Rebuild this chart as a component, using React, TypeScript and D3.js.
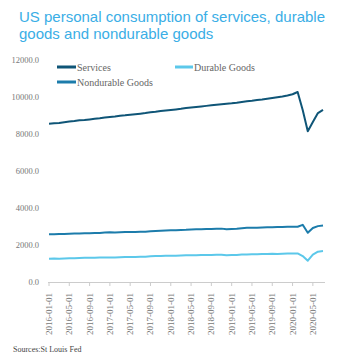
import React from "react";
import * as d3 from "d3";

const months: string[] = [];
const startYear = 2016;
for (let y = startYear; y <= 2020; y++) {
  for (let m = 1; m <= 12; m++) {
    if (y === 2020 && m > 7) break;
    months.push(`${y}-${String(m).padStart(2, "0")}-01`);
  }
}

const tickLabels = [
  "2016-01-01", "2016-05-01", "2016-09-01", "2017-01-01", "2017-05-01", "2017-09-01",
  "2018-01-01", "2018-05-01", "2018-09-01", "2019-01-01", "2019-05-01", "2019-09-01",
  "2020-01-01", "2020-05-01",
];

const yTicks = [0, 2000, 4000, 6000, 8000, 10000, 12000];

const services = [
  8550, 8580, 8600, 8640, 8670, 8700, 8740, 8760, 8790, 8820, 8850, 8890,
  8920, 8950, 8990, 9010, 9040, 9070, 9100, 9130, 9170, 9200, 9240, 9270,
  9300, 9330, 9360, 9400, 9430, 9460, 9490, 9520, 9550, 9580, 9610, 9640,
  9660, 9690, 9730, 9770, 9800, 9840, 9870, 9910, 9950, 9990, 10030, 10080,
  10150, 10270, 9300, 8150, 8650, 9130, 9300,
];

const nondurable = [
  2580, 2575, 2590, 2600, 2610, 2620, 2625, 2630, 2640, 2650, 2655, 2670,
  2690, 2680, 2690, 2700, 2705, 2700, 2710, 2720, 2740, 2755, 2770, 2790,
  2800, 2795, 2810, 2820, 2840, 2845, 2850, 2860, 2870, 2880, 2885, 2850,
  2870, 2880, 2910, 2930, 2935, 2930, 2945, 2955, 2960, 2970, 2975, 2985,
  2990, 2985, 3090, 2660, 2920, 3020, 3060,
];

const durable = [
  1260, 1265, 1260, 1275, 1285, 1290, 1295, 1305, 1310, 1315, 1325, 1330,
  1330, 1325, 1335, 1345, 1350, 1355, 1360, 1370, 1390, 1400, 1410, 1415,
  1420, 1415, 1430, 1440, 1445, 1450, 1455, 1460, 1465, 1470, 1475, 1450,
  1455, 1465, 1480, 1490, 1495, 1500, 1510, 1515, 1525, 1520, 1530, 1535,
  1540, 1545, 1400, 1150, 1480, 1640, 1670,
];

const seriesNames = ["Services", "Durable Goods", "Nondurable Goods"];
const seriesColors = ["#0f5577", "#5cc8ea", "#1c7cab"];

const W = 353;
const H = 362;
const serif = "'Liberation Serif', 'DejaVu Serif', serif";

export default function App() {
  const x = d3.scalePoint<string>().domain(months).range([49, 323]);
  const y = d3.scaleLinear().domain([0, 12000]).range([282, 60]);
  const line = d3
    .line<number>()
    .x((_, i) => x(months[i]) as number)
    .y((d) => y(d))
    .curve(d3.curveLinear);

  const data = [services, durable, nondurable];

  return (
    <svg
      width={W}
      height={H}
      style={{ position: "absolute", left: 0, top: 0, background: "#fff" }}
    >
      <text x={19} y={22} fontFamily="'Liberation Sans', Arial, sans-serif" fontSize={15} fill="#3aaee6">
        US personal consumption of services, durable
      </text>
      <text x={19} y={39} fontFamily="'Liberation Sans', Arial, sans-serif" fontSize={15} fill="#3aaee6">
        goods and nondurable goods
      </text>

      {yTicks.map((t) => (
        <text
          key={t}
          x={39}
          y={y(t) + 3}
          textAnchor="end"
          fontFamily={serif}
          fontSize={8.5}
          fill="#777"
        >
          {t.toFixed(1)}
        </text>
      ))}

      <line x1={48} x2={325} y1={282.5} y2={282.5} stroke="#ccc" strokeWidth={1} />
      {tickLabels.map((t) => {
        const xp = x(t) as number;
        return (
          <g key={t}>
            <line x1={xp} x2={xp} y1={282.5} y2={286} stroke="#ccc" />
            <text
              transform={`translate(${xp + 3},${293}) rotate(-90)`}
              textAnchor="end"
              fontFamily={serif}
              fontSize={9}
              fill="#777"
            >
              {t}
            </text>
          </g>
        );
      })}

      {data.map((d, i) => (
        <path
          key={i}
          d={line(d) as string}
          fill="none"
          stroke={seriesColors[i]}
          strokeWidth={2}
          strokeLinejoin="round"
        />
      ))}

      {/* legend */}
      <line x1={57} x2={76} y1={67} y2={67} stroke={seriesColors[0]} strokeWidth={3} />
      <text x={77} y={70.5} fontFamily={serif} fontSize={10} fill="#666">
        {seriesNames[0]}
      </text>
      <line x1={57} x2={76} y1={82} y2={82} stroke={seriesColors[2]} strokeWidth={3} />
      <text x={77} y={85.5} fontFamily={serif} fontSize={10} fill="#666">
        {seriesNames[2]}
      </text>
      <line x1={175} x2={193} y1={67} y2={67} stroke={seriesColors[1]} strokeWidth={3} />
      <text x={194} y={70.5} fontFamily={serif} fontSize={10} fill="#666">
        {seriesNames[1]}
      </text>

      <text x={13} y={352} fontFamily={serif} fontSize={8} fill="#444">
        Sources:St Louis Fed
      </text>
    </svg>
  );
}
